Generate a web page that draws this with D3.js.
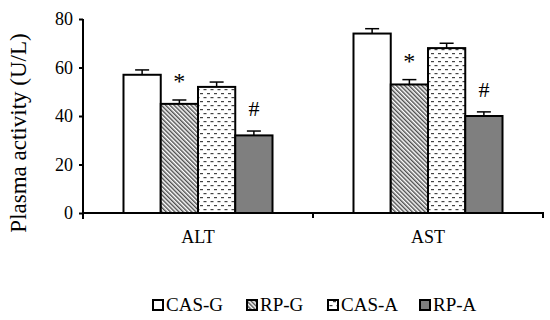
<!DOCTYPE html>
<html>
<head>
<meta charset="utf-8">
<script src="https://cdn.jsdelivr.net/npm/d3@7"></script>
<style>
  html, body { margin: 0; padding: 0; background: #ffffff; }
  svg text { font-family: "Liberation Serif", "Times New Roman", serif !important; fill: #000; }
</style>
</head>
<body>
<svg id="chart" width="550" height="320"></svg>
<script>
const categories = ["ALT", "AST"];
const seriesNames = ["CAS-G", "RP-G", "CAS-A", "RP-A"];
const casG = [57, 74];
const rpG = [45, 53];
const casA = [52, 68];
const rpA = [32, 40];
const casGErr = [2, 2];
const rpGErr = [1.6, 2];
const casAErr = [2, 2];
const rpAErr = [1.8, 1.7];
const marks = ["", "*", "", "#"];
const yTicks = [0, 20, 40, 60, 80];
const yTitle = "Plasma activity (U/L)";

const FONT = "'Liberation Serif', 'Times New Roman', serif";
const seriesValues = [casG, rpG, casA, rpA];
const seriesErrors = [casGErr, rpGErr, casAErr, rpAErr];
const fills = ["#ffffff", "url(#hatch)", "url(#dashes)", "#7f7f7f"];

const svg = d3.select("#chart").attr("font-family", FONT);
const defs = svg.append("defs");

const hatch = defs.append("pattern").attr("id", "hatch")
  .attr("patternUnits", "userSpaceOnUse").attr("width", 3).attr("height", 3)
  .attr("patternTransform", "rotate(-45)");
hatch.append("rect").attr("width", 3).attr("height", 3).attr("fill", "#ffffff");
hatch.append("line").attr("x1", 0.75).attr("y1", 0).attr("x2", 0.75).attr("y2", 3)
  .attr("stroke", "#3a3a3a").attr("stroke-width", 1.3);

const dashes = defs.append("pattern").attr("id", "dashes")
  .attr("patternUnits", "userSpaceOnUse").attr("width", 7).attr("height", 8);
dashes.append("rect").attr("width", 7).attr("height", 8).attr("fill", "#ffffff");
dashes.append("rect").attr("x", 0.5).attr("y", 1).attr("width", 3).attr("height", 1.2).attr("fill", "#444");
dashes.append("rect").attr("x", 4).attr("y", 5).attr("width", 3).attr("height", 1.2).attr("fill", "#444");

const x0 = d3.scaleBand().domain(categories).range([83, 543]).paddingInner(0).paddingOuter(0);
const x1 = d3.scaleBand().domain(seriesNames).range([0, x0.bandwidth()]).paddingInner(0).paddingOuter(1.087);
const y = d3.scaleLinear().domain([0, 80]).range([213, 19]);

seriesNames.forEach((s, si) => {
  const g = svg.append("g");
  categories.forEach((c, ci) => {
    const v = seriesValues[si][ci];
    const e = seriesErrors[si][ci];
    const bx = x0(c) + x1(s);
    const bw = x1.bandwidth();
    const cx = bx + bw / 2;
    g.append("line").attr("x1", cx).attr("x2", cx).attr("y1", y(v)).attr("y2", y(v + e))
      .attr("stroke", "#000").attr("stroke-width", 1.5);
    g.append("line").attr("x1", cx - 7).attr("x2", cx + 7).attr("y1", y(v + e)).attr("y2", y(v + e))
      .attr("stroke", "#000").attr("stroke-width", 1.5);
    g.append("rect").attr("x", bx).attr("y", y(v)).attr("width", bw).attr("height", y(0) - y(v))
      .attr("fill", fills[si]).attr("stroke", "#000").attr("stroke-width", 2);
    if (marks[si]) {
      const isStar = marks[si] === "*";
      g.append("text").attr("x", cx).attr("y", y(v + e) - (isStar ? 11 : 15))
        .attr("text-anchor", "middle")
        .style("font-family", FONT)
        .style("font-size", isStar ? "24px" : "22px")
        .text(marks[si]);
    }
  });
});

const yAxis = svg.append("g").attr("transform", "translate(83,0)")
  .call(d3.axisLeft(y).tickValues(yTicks).tickSize(4).tickPadding(6).tickSizeOuter(0));
yAxis.attr("font-family", FONT);
yAxis.select(".domain").attr("stroke", "#000").attr("stroke-width", 2)
  .attr("d", `M0,${y(80)}V${y(0) + 6}`);
yAxis.selectAll(".tick line").attr("stroke", "#000").attr("stroke-width", 2);
yAxis.selectAll(".tick text").style("font-size", "18px").style("font-family", FONT);

const xAxis = svg.append("g").attr("transform", `translate(0,${y(0)})`);
xAxis.append("line").attr("x1", 82).attr("x2", 544).attr("y1", 0).attr("y2", 0)
  .attr("stroke", "#000").attr("stroke-width", 2);
const bounds = [x0(categories[0]) + x0.bandwidth(), x0(categories[1]) + x0.bandwidth()];
xAxis.selectAll(".xt").data(bounds).enter().append("line")
  .attr("x1", d => d).attr("x2", d => d).attr("y1", 0).attr("y2", 5)
  .attr("stroke", "#000").attr("stroke-width", 2);
xAxis.selectAll(".xl").data(categories).enter().append("text")
  .attr("x", d => x0(d) + x0.bandwidth() / 2).attr("y", 30)
  .attr("text-anchor", "middle").style("font-family", FONT).style("font-size", "18px").text(d => d);

svg.append("text").attr("transform", "translate(26,133) rotate(-90)")
  .attr("text-anchor", "middle").style("font-family", FONT).style("font-size", "23px").text(yTitle);

const legendX = [153, 247, 328, 420];
const legend = svg.append("g");
seriesNames.forEach((s, i) => {
  legend.append("rect").attr("x", legendX[i]).attr("y", 300).attr("width", 10).attr("height", 10)
    .attr("fill", fills[i]).attr("stroke", "#000").attr("stroke-width", 2);
  legend.append("text").attr("x", legendX[i] + 13).attr("y", 311)
    .style("font-family", FONT).style("font-size", "19px").text(s);
});
</script>
</body>
</html>
